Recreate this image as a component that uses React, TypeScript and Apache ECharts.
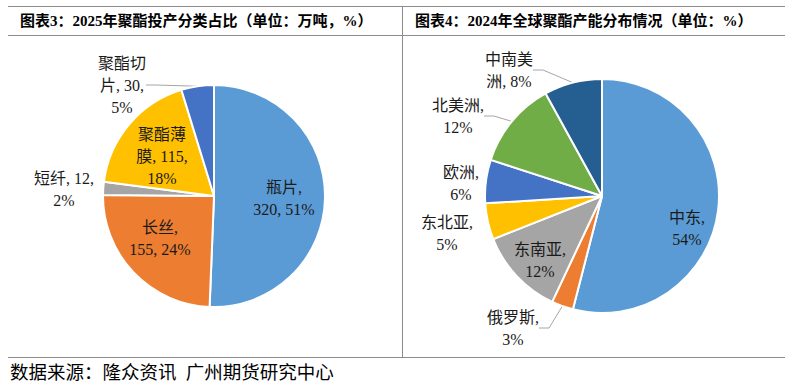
import React, { useEffect, useRef } from "react";
import * as echarts from "echarts";

const LEFT_TITLE = "图表3：2025年聚酯投产分类占比（单位：万吨，%）";
const RIGHT_TITLE = "图表4：2024年全球聚酯产能分布情况（单位：%）";
const SOURCE = "数据来源：隆众资讯  广州期货研究中心";

const leftNames = ["瓶片", "长丝", "短纤", "聚酯薄膜", "聚酯切片"];
const leftValues = [320, 155, 12, 115, 30];
const leftPercents = [51, 24, 2, 18, 5];
const leftColors = ["#5B9BD5", "#ED7D31", "#A5A5A5", "#FFC000", "#4472C4"];

const rightNames = ["中东", "俄罗斯", "东南亚", "东北亚", "欧洲", "北美洲", "中南美洲"];
const rightPercents = [54, 3, 12, 5, 6, 12, 8];
const rightColors = ["#5B9BD5", "#ED7D31", "#A5A5A5", "#FFC000", "#4472C4", "#70AD47", "#255E91"];

// label placement (layout, not data)
const leftLabelCfg = [
  { pos: "inside", x: 284, y: 198, wrap: [3], line: false },
  { pos: "inside", x: 160, y: 238, wrap: [3], line: false },
  { pos: "outside", x: 64, y: 189, wrap: [7], line: false },
  { pos: "inside", x: 162, y: 156, wrap: [3, 7], line: false },
  { pos: "outside", x: 122, y: 85, wrap: [3, 6], line: true },
];
const rightLabelCfg = [
  { pos: "inside", x: 687, y: 228, wrap: [3], line: false },
  { pos: "outside", x: 513, y: 328, wrap: [4], line: true },
  { pos: "inside", x: 540, y: 260, wrap: [4], line: false },
  { pos: "outside", x: 447, y: 233, wrap: [4], line: false },
  { pos: "outside", x: 461, y: 183, wrap: [3], line: false },
  { pos: "outside", x: 458, y: 116, wrap: [4], line: true },
  { pos: "outside", x: 509, y: 70, wrap: [3], line: true },
];

const FONT = "'Liberation Serif', 'Noto Sans CJK SC', serif";

function wrap(text: string, counts: number[]): string {
  const lines: string[] = [];
  let rest = text;
  for (const n of counts) {
    rest = rest.replace(/^\s+/, "");
    lines.push(rest.slice(0, n));
    rest = rest.slice(n);
  }
  rest = rest.replace(/^\s+/, "");
  if (rest) lines.push(rest);
  return lines.join("\n");
}

function makePie(
  center: number[],
  radius: number,
  names: string[],
  values: number[],
  colors: string[],
  cfg: any[],
  textOf: (i: number) => string
) {
  return {
    type: "pie",
    center,
    radius,
    startAngle: 90,
    clockwise: true,
    emphasis: { disabled: true },
    itemStyle: { borderColor: "#ffffff", borderWidth: 2 },
    label: {
      fontSize: 16,
      lineHeight: 22,
      color: "#1a1a1a",
      fontFamily: FONT,
      formatter: (p: any) => wrap(textOf(p.dataIndex), cfg[p.dataIndex].wrap),
    },
    labelLine: {
      length: 10,
      length2: 10,
      lineStyle: { color: "#a6a6a6", width: 1 },
    },
    labelLayout: (p: any) => {
      const c = cfg[p.dataIndex];
      return { x: c.x, y: c.y, align: "center", verticalAlign: "middle" };
    },
    data: names.map((n, i) => ({
      name: n,
      value: values[i],
      itemStyle: { color: colors[i] },
      label: { position: cfg[i].pos },
      labelLine: { show: cfg[i].line },
    })),
  };
}

export default function App() {
  const ref = useRef<HTMLDivElement>(null);
  useEffect(() => {
    if (!ref.current) return;
    const chart = echarts.init(ref.current, null, { renderer: "svg" });
    const lineStyle = { stroke: "#8c8c8c", lineWidth: 1 };
    chart.setOption({
      animation: false,
      backgroundColor: "#ffffff",
      graphic: [
        { type: "line", shape: { x1: 8, y1: 6.5, x2: 785, y2: 6.5 }, style: lineStyle },
        { type: "line", shape: { x1: 8, y1: 35.5, x2: 785, y2: 35.5 }, style: lineStyle },
        { type: "line", shape: { x1: 8, y1: 357.5, x2: 785, y2: 357.5 }, style: lineStyle },
        { type: "line", shape: { x1: 402.5, y1: 6.5, x2: 402.5, y2: 357.5 }, style: lineStyle },
        {
          type: "text",
          x: 20,
          y: 21,
          style: {
            text: LEFT_TITLE,
            fontSize: 15,
            fontWeight: "bold",
            fontFamily: FONT,
            fill: "#000",
            verticalAlign: "middle",
          },
        },
        {
          type: "text",
          x: 415,
          y: 21,
          style: {
            text: RIGHT_TITLE,
            fontSize: 15,
            fontWeight: "bold",
            fontFamily: FONT,
            fill: "#000",
            verticalAlign: "middle",
          },
        },
        {
          type: "text",
          x: 10,
          y: 373,
          style: {
            text: SOURCE,
            fontSize: 18.5,
            fontFamily: FONT,
            fill: "#000",
            verticalAlign: "middle",
          },
        },
      ],
      series: [
        makePie(
          [214, 196],
          111,
          leftNames,
          leftValues,
          leftColors,
          leftLabelCfg,
          (i) => `${leftNames[i]}, ${leftValues[i]}, ${leftPercents[i]}%`
        ),
        makePie(
          [602, 196],
          117,
          rightNames,
          rightPercents,
          rightColors,
          rightLabelCfg,
          (i) => `${rightNames[i]}, ${rightPercents[i]}%`
        ),
      ],
    });
    return () => chart.dispose();
  }, []);
  return (
    <div
      ref={ref}
      style={{ position: "absolute", left: 0, top: 0, width: 799, height: 385 }}
    />
  );
}
